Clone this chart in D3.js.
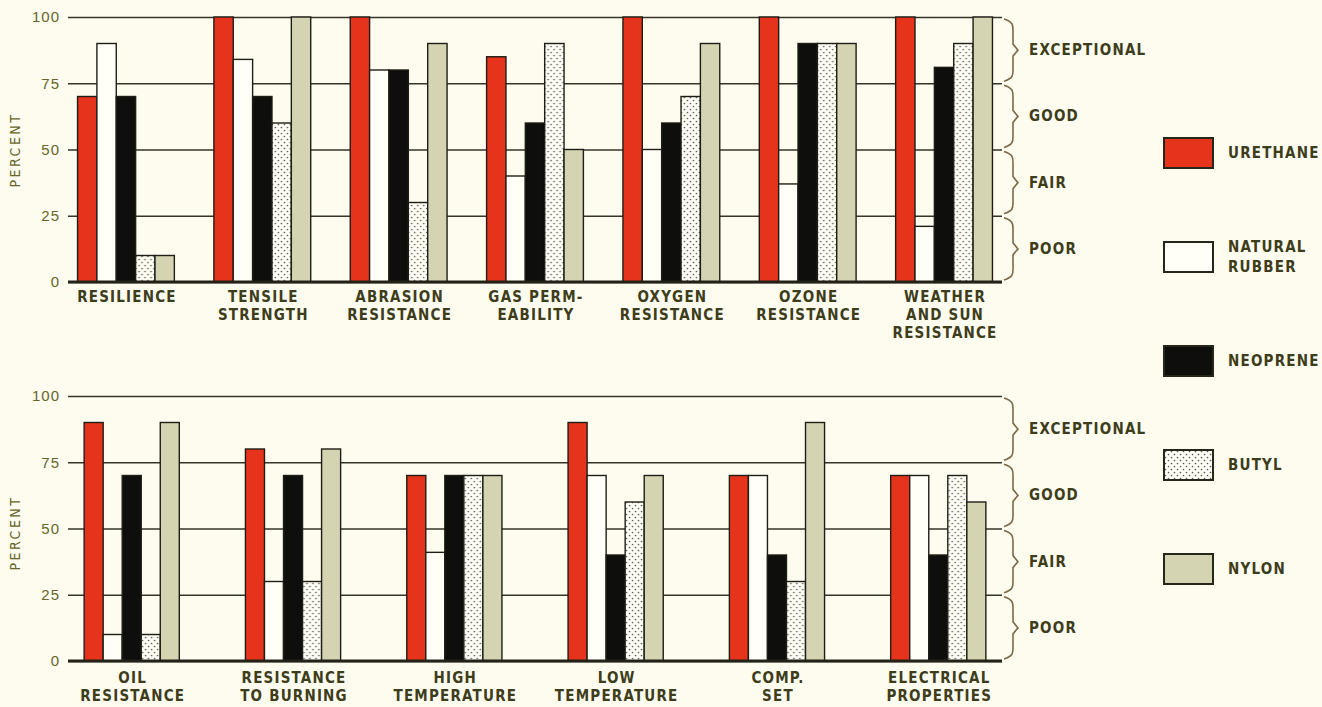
<!DOCTYPE html>
<html><head><meta charset="utf-8">
<script src="https://cdn.jsdelivr.net/npm/d3@7"></script>
<style>
body{margin:0;background:#fdfcef;}
svg{display:block;}
.lbl{font-family:"Liberation Sans Narrow","DejaVu Sans Condensed","Liberation Sans",sans-serif;font-weight:bold;}
</style>
</head><body>
<svg id="c" width="1322" height="707"></svg>
<script>
// ---- data ----
const seriesNames = ["URETHANE", "NATURAL RUBBER", "NEOPRENE", "BUTYL", "NYLON"];
const yTicks = [0, 25, 50, 75, 100];
const ratingLabels = ["POOR", "FAIR", "GOOD", "EXCEPTIONAL"];

const categoriesTop = ["RESILIENCE", "TENSILE\nSTRENGTH", "ABRASION\nRESISTANCE", "GAS PERM-\nEABILITY",
  "OXYGEN\nRESISTANCE", "OZONE\nRESISTANCE", "WEATHER\nAND SUN\nRESISTANCE"];
const urethaneTop = [70, 100, 100, 85, 100, 100, 100];
const naturalTop  = [90, 84, 80, 40, 50, 37, 21];
const neopreneTop = [70, 70, 80, 60, 60, 90, 81];
const butylTop    = [10, 60, 30, 90, 70, 90, 90];
const nylonTop    = [10, 100, 90, 50, 90, 90, 100];

const categoriesBottom = ["OIL\nRESISTANCE", "RESISTANCE\nTO BURNING", "HIGH\nTEMPERATURE",
  "LOW\nTEMPERATURE", "COMP.\nSET", "ELECTRICAL\nPROPERTIES"];
const urethaneBottom = [90, 80, 70, 90, 70, 70];
const naturalBottom  = [10, 30, 41, 70, 70, 70];
const neopreneBottom = [70, 70, 70, 40, 40, 40];
const butylBottom    = [10, 30, 70, 60, 30, 70];
const nylonBottom    = [90, 80, 70, 70, 90, 60];

// ---- styles ----
const fills = ["#e6331b", "#fffff7", "#0e0e0c", "url(#dots)", "#d5d4b2"];
const ink = "#3d3d1c";
const olive = "#67652a";

const svg = d3.select("#c");
const defs = svg.append("defs");
const pat = defs.append("pattern").attr("id", "dots").attr("patternUnits", "userSpaceOnUse")
  .attr("width", 6).attr("height", 6);
pat.append("rect").attr("width", 6).attr("height", 6).attr("fill", "#fffff7");
pat.append("circle").attr("cx", 1.5).attr("cy", 1.5).attr("r", 0.85).attr("fill", "#5a5a4a");
pat.append("circle").attr("cx", 4.5).attr("cy", 4.5).attr("r", 0.85).attr("fill", "#5a5a4a");

svg.append("rect").attr("width", 1322).attr("height", 707).attr("fill", "#fdfcef");

const plotL = 68, plotR = 1002;

function drawPanel(cfg) {
  const g = svg.append("g");
  const y = d3.scaleLinear().domain([0, 100]).range([cfg.y0, cfg.y100]);
  const x0 = d3.scaleBand().domain(cfg.cats).range([plotL, plotR])
    .paddingInner(cfg.pi).paddingOuter(cfg.po);
  const x1 = d3.scaleBand().domain(d3.range(5)).range([0, x0.bandwidth()]);

  // y axis + grid
  const ax = g.append("g").attr("transform", `translate(${plotL},0)`)
    .call(d3.axisLeft(y).tickValues(yTicks).tickSize(-(plotR - plotL)).tickPadding(8));
  ax.select(".domain").remove();
  ax.selectAll(".tick line").attr("stroke", "#34342a").attr("stroke-width", 1.5);
  ax.selectAll(".tick text").attr("fill", olive)
    .style("font-family", "'Liberation Sans',sans-serif").style("font-size", "15px")
    .style("letter-spacing", "1px");

  // bars
  const data = cfg.cats.map((c, i) => ({c, vals: cfg.series.map(s => s[i])}));
  const grp = g.selectAll("g.grp").data(data).join("g").attr("class", "grp")
    .attr("transform", d => `translate(${x0(d.c)},0)`);
  grp.selectAll("rect").data(d => d.vals.map((v, k) => ({v, k}))).join("rect")
    .attr("x", d => x1(d.k))
    .attr("y", d => y(d.v))
    .attr("width", x1.bandwidth())
    .attr("height", d => y(0) - y(d.v))
    .attr("fill", d => fills[d.k])
    .attr("stroke", "#1e1e16").attr("stroke-width", 1.4);

  // baseline
  g.append("line").attr("x1", plotL).attr("x2", plotR)
    .attr("y1", y(0)).attr("y2", y(0)).attr("stroke", "#222218").attr("stroke-width", 3);

  // x labels
  const xa = g.append("g").attr("transform", `translate(0,${y(0)})`)
    .call(d3.axisBottom(x0).tickSize(0).tickPadding(0));
  xa.select(".domain").remove();
  xa.selectAll(".tick text").each(function (d) {
    const t = d3.select(this).text(null).attr("y", 0).attr("dy", null)
      .attr("class", "lbl").attr("fill", ink)
      .style("font-size", "15px").style("letter-spacing", "1.2px");
    d.split("\n").forEach((line, i) => {
      t.append("tspan").attr("x", 1).attr("y", cfg.lab0 + i * 18).text(line);
    });
  });

  // PERCENT
  g.append("text").attr("class", "lbl")
    .attr("transform", `translate(20,${cfg.percentY}) rotate(-90)`)
    .attr("text-anchor", "middle").attr("fill", olive)
    .style("font-size", "14px").style("letter-spacing", "2.5px").style("font-weight", "normal")
    .text("PERCENT");

  // braces
  const bx = plotR + 2, bm = bx + 9, bt = bx + 14;
  d3.range(4).forEach(i => {
    const yb = y(i * 25) - 3, ytop = y((i + 1) * 25) + 3, ym = (yb + ytop) / 2;
    const p = d3.path();
    p.moveTo(bx, ytop - 1);
    p.bezierCurveTo(bm, ytop + 2, bm, ytop + 5, bm, ytop + 10);
    p.lineTo(bm, ym - 6); p.lineTo(bt, ym); p.lineTo(bm, ym + 6);
    p.lineTo(bm, yb - 10);
    p.bezierCurveTo(bm, yb - 5, bm, yb - 2, bx, yb + 1);
    g.append("path").attr("d", p.toString()).attr("fill", "none")
      .attr("stroke", "#7d6a48").attr("stroke-width", 1.6);
    g.append("text").attr("class", "lbl").attr("x", bt + 11).attr("y", ym + 5)
      .attr("fill", ink).style("font-size", "15px").style("letter-spacing", "1.2px")
      .text(ratingLabels[i]);
  });
}

drawPanel({cats: categoriesTop, series: [urethaneTop, naturalTop, neopreneTop, butylTop, nylonTop],
  y0: 282, y100: 17, pi: 0.29, po: 0.07, lab0: 20, percentY: 150});
drawPanel({cats: categoriesBottom, series: [urethaneBottom, naturalBottom, neopreneBottom, butylBottom, nylonBottom],
  y0: 661, y100: 396, pi: 0.41, po: 0.1, lab0: 22, percentY: 533});

// legend
const legY = d3.scalePoint().domain(seriesNames).range([153, 569]);
const lg = svg.append("g");
seriesNames.forEach((n, k) => {
  const cy = legY(n);
  lg.append("rect").attr("x", 1164).attr("y", cy - 15).attr("width", 49).attr("height", 30)
    .attr("fill", fills[k]).attr("stroke", "#26261a").attr("stroke-width", 2);
  const parts = n === "NATURAL RUBBER" ? ["NATURAL", "RUBBER"] : [n];
  parts.forEach((p, j) => {
    lg.append("text").attr("class", "lbl").attr("x", 1228)
      .attr("y", cy + 5 + (j - (parts.length - 1) / 2) * 20)
      .attr("fill", ink).style("font-size", "15px").style("letter-spacing", "1.2px").text(p);
  });
});
</script>
</body></html>
